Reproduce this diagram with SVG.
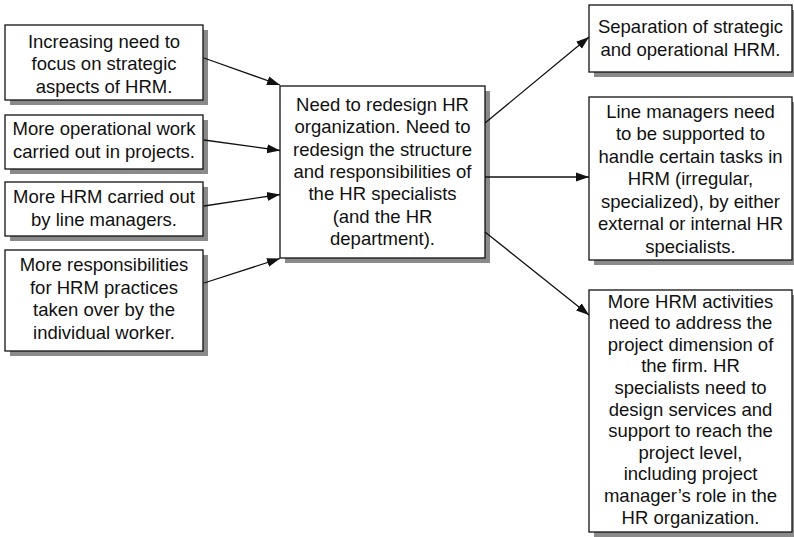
<svg xmlns="http://www.w3.org/2000/svg" width="794" height="537" viewBox="0 0 794 537">
  <defs>
    <style>
      .box { fill: #ffffff; stroke: #111111; stroke-width: 1.3; }
      .shadow { fill: #8a8a8a; stroke: none; }
      .label { font-family: "Liberation Sans", Arial, sans-serif; font-size: 18.5px; fill: #111111; text-anchor: middle; }
      .edge { stroke: #111111; stroke-width: 1.3; fill: none; marker-end: url(#arrow); }
    </style>
    <marker id="arrow" markerUnits="userSpaceOnUse" markerWidth="14" markerHeight="10" refX="13" refY="5" orient="auto">
      <path d="M0,0.5 L13,5 L0,9.5 z" fill="#111111"/>
    </marker>
  </defs>
  <rect width="794" height="537" fill="#ffffff"/>

  <!-- Drivers (left column) -->
  <g id="driver-strategic">
    <rect class="shadow" x="10" y="30" width="198" height="75"/>
    <rect class="box" x="5" y="25" width="198" height="75"/>
    <text class="label" x="104" y="47.5">Increasing need to</text>
    <text class="label" x="104" y="70">focus on strategic</text>
    <text class="label" x="104" y="92.5">aspects of HRM.</text>
  </g>
  <g id="driver-projects">
    <rect class="shadow" x="10" y="120" width="198" height="54"/>
    <rect class="box" x="5" y="115" width="198" height="54"/>
    <text class="label" x="104" y="135">More operational work</text>
    <text class="label" x="104" y="157.5">carried out in projects.</text>
  </g>
  <g id="driver-line-managers">
    <rect class="shadow" x="10" y="187" width="198" height="54"/>
    <rect class="box" x="5" y="182" width="198" height="54"/>
    <text class="label" x="104" y="203">More HRM carried out</text>
    <text class="label" x="104" y="225.5">by line managers.</text>
  </g>
  <g id="driver-individual">
    <rect class="shadow" x="10" y="255" width="198" height="101"/>
    <rect class="box" x="5" y="250" width="198" height="101"/>
    <text class="label" x="104" y="271">More responsibilities</text>
    <text class="label" x="104" y="293.5">for HRM practices</text>
    <text class="label" x="104" y="316">taken over by the</text>
    <text class="label" x="104" y="338.5">individual worker.</text>
  </g>

  <!-- Central need -->
  <g id="redesign">
    <rect class="shadow" x="285" y="91" width="205" height="172"/>
    <rect class="box" x="280" y="86" width="205" height="172"/>
    <text class="label" x="382.5" y="111">Need to redesign HR</text>
    <text class="label" x="382.5" y="133.3">organization. Need to</text>
    <text class="label" x="382.5" y="155.6">redesign the structure</text>
    <text class="label" x="382.5" y="177.9">and responsibilities of</text>
    <text class="label" x="382.5" y="200.2">the HR specialists</text>
    <text class="label" x="382.5" y="222.5">(and the HR</text>
    <text class="label" x="382.5" y="244.8">department).</text>
  </g>

  <!-- Consequences (right column) -->
  <g id="separation">
    <rect class="shadow" x="594" y="10" width="203" height="67"/>
    <rect class="box" x="589" y="5" width="203" height="67"/>
    <text class="label" x="690.5" y="33">Separation of strategic</text>
    <text class="label" x="690.5" y="55.5">and operational HRM.</text>
  </g>
  <g id="support-line-managers">
    <rect class="shadow" x="594" y="102" width="203" height="163"/>
    <rect class="box" x="589" y="97" width="203" height="163"/>
    <text class="label" x="690.5" y="117.5">Line managers need</text>
    <text class="label" x="690.5" y="140">to be supported to</text>
    <text class="label" x="690.5" y="162.5">handle certain tasks in</text>
    <text class="label" x="690.5" y="185">HRM (irregular,</text>
    <text class="label" x="690.5" y="207.5">specialized), by either</text>
    <text class="label" x="690.5" y="230">external or internal HR</text>
    <text class="label" x="690.5" y="252.5">specialists.</text>
  </g>
  <g id="project-dimension">
    <rect class="shadow" x="594" y="295" width="203" height="242"/>
    <rect class="box" x="589" y="290" width="203" height="242"/>
    <text class="label" x="690.5" y="307.5">More HRM activities</text>
    <text class="label" x="690.5" y="329.1">need to address the</text>
    <text class="label" x="690.5" y="350.7">project dimension of</text>
    <text class="label" x="690.5" y="372.3">the firm. HR</text>
    <text class="label" x="690.5" y="393.9">specialists need to</text>
    <text class="label" x="690.5" y="415.5">design services and</text>
    <text class="label" x="690.5" y="437.1">support to reach the</text>
    <text class="label" x="690.5" y="458.7">project level,</text>
    <text class="label" x="690.5" y="480.3">including project</text>
    <text class="label" x="690.5" y="501.9">manager’s role in the</text>
    <text class="label" x="690.5" y="523.5">HR organization.</text>
  </g>

  <!-- Connectors -->
  <g id="connectors">
    <line class="edge" x1="204" y1="58" x2="280" y2="85"/>
    <line class="edge" x1="204" y1="140" x2="280" y2="150.5"/>
    <line class="edge" x1="204" y1="206" x2="280" y2="194.5"/>
    <line class="edge" x1="204" y1="283" x2="280" y2="258.5"/>
    <line class="edge" x1="485" y1="123" x2="589" y2="37"/>
    <line class="edge" x1="485" y1="177" x2="589" y2="177"/>
    <line class="edge" x1="485" y1="232" x2="589" y2="315"/>
  </g>
</svg>
